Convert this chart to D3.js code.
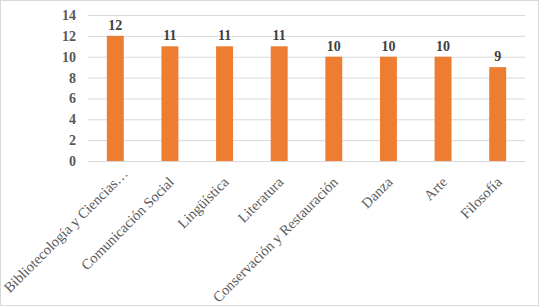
<!DOCTYPE html>
<html><head><meta charset="utf-8">
<script src="https://cdn.jsdelivr.net/npm/d3@7"></script>
<style>body{margin:0;background:#fff}svg{display:block}</style>
</head><body>
<svg id="c" width="540" height="308"></svg>
<script>
const categories = ["Bibliotecología y Ciencias…","Comunicación Social","Lingüística","Literatura","Conservación y Restauración","Danza","Arte","Filosofía"];
const values = [12,11,11,11,10,10,10,9];
const yTicks = [0,2,4,6,8,10,12,14];

const svg = d3.select("#c");
const W = 540, H = 308;
const m = {left:88, right:15, top:15, bottom:147};
svg.append("rect").attr("x",0.5).attr("y",0.5).attr("width",W-2).attr("height",H-3)
  .attr("fill","#fff").attr("stroke","#d9d9d9");

const x = d3.scaleBand().domain(categories).range([m.left, W-m.right]).paddingInner(0.69).paddingOuter(0.345);
const y = d3.scaleLinear().domain([0,14]).range([H-m.bottom, m.top]);

const font = "Liberation Serif";

const ya = svg.append("g").attr("transform",`translate(${m.left},0)`)
  .call(d3.axisLeft(y).tickValues(yTicks).tickSize(-(W-m.right-m.left)).tickPadding(12));
ya.attr("font-family",font);
ya.select(".domain").remove();
ya.selectAll(".tick line").attr("stroke","#d9d9d9");
ya.selectAll(".tick text").attr("font-family",font).attr("font-size",14).attr("font-weight","bold").attr("fill","#595959");

svg.append("g").selectAll("rect").data(values).join("rect")
  .attr("x",(d,i)=>x(categories[i])).attr("width",x.bandwidth())
  .attr("y",d=>y(d)).attr("height",d=>y(0)-y(d)).attr("fill","#ED7D31");

svg.append("g").selectAll("text").data(values).join("text")
  .attr("x",(d,i)=>x(categories[i])+x.bandwidth()/2).attr("y",d=>y(d)-6)
  .attr("text-anchor","middle").attr("font-family",font).attr("font-size",14).attr("font-weight","bold")
  .attr("fill","#404040").text(d=>d);

const xa = svg.append("g").attr("transform",`translate(0,${H-m.bottom})`)
  .call(d3.axisBottom(x).tickSize(0).tickPadding(0));
xa.attr("font-family",font);
xa.select(".domain").attr("stroke","#d9d9d9");
// truncated labels (ending with an ellipsis) sit a little further along their own direction
xa.selectAll(".tick text").attr("font-family",font).attr("font-size",14.5).attr("fill","#595959")
  .attr("text-anchor","end").attr("dy",0)
  .attr("dx",d=>d.endsWith("…")?12:0)
  .attr("transform","translate(5,22) rotate(-45)");
</script>
</body></html>
